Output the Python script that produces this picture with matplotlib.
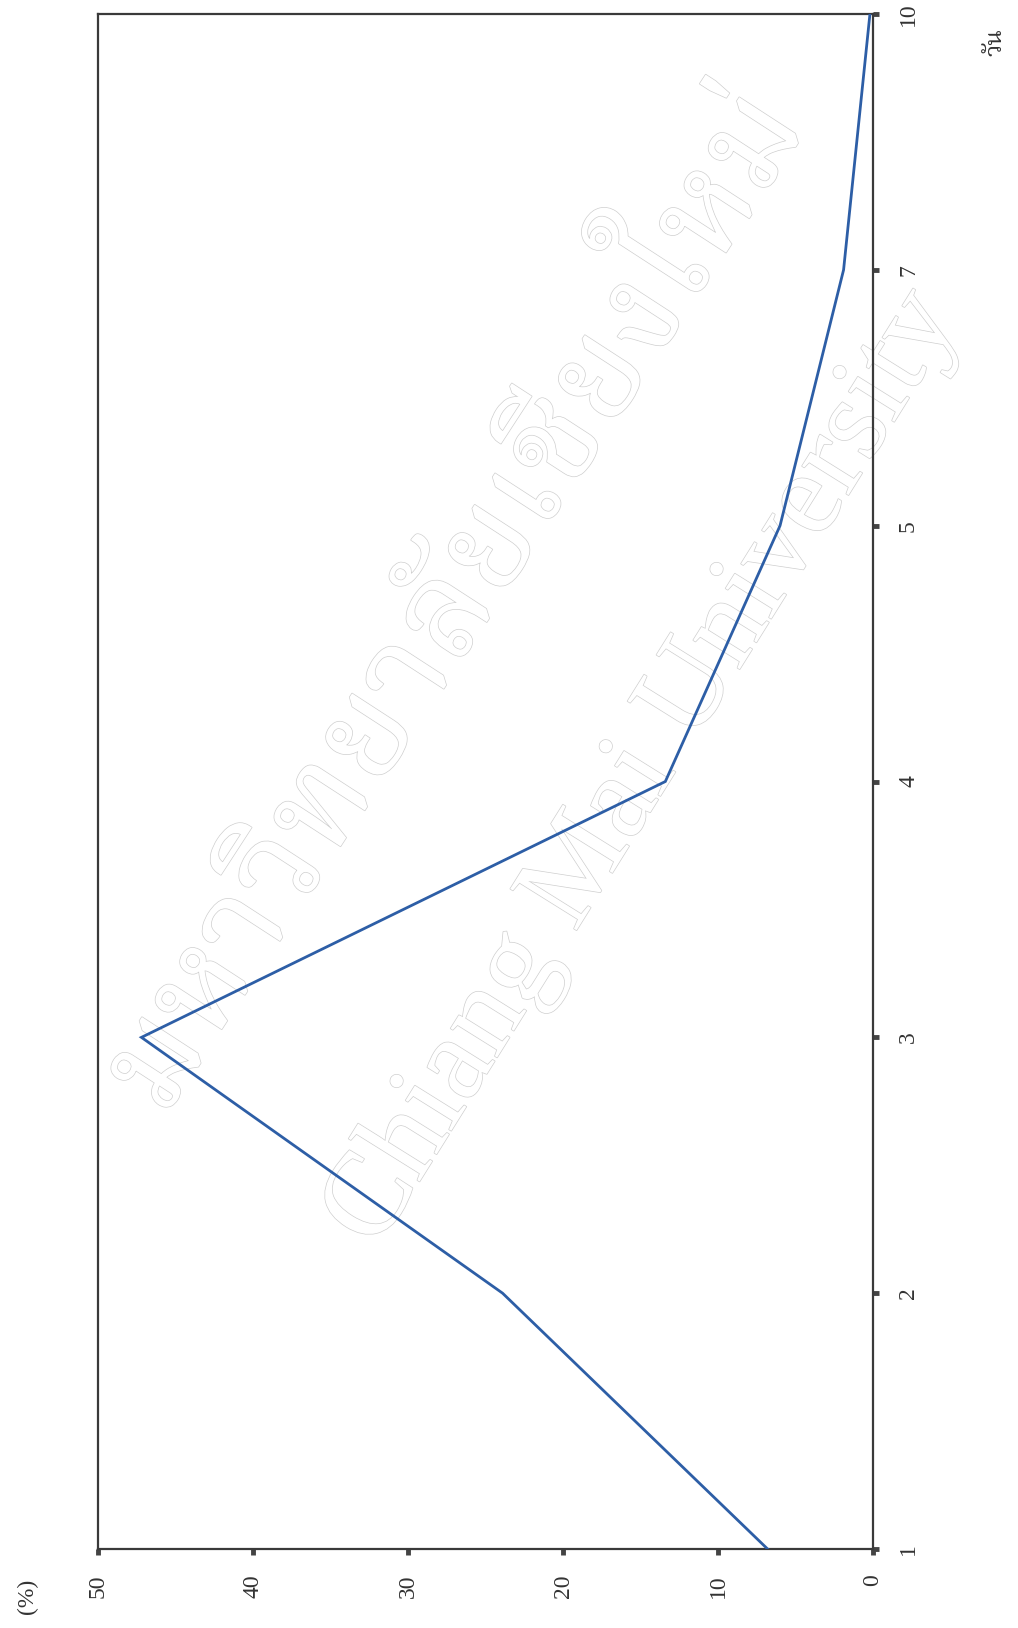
import numpy as np
import matplotlib
matplotlib.use("Agg")
import matplotlib.pyplot as plt
import matplotlib.patheffects as pe

# data: percentage per day (chart is printed rotated 90 degrees)
days = ["1", "2", "3", "4", "5", "7", "10"]
percent = [6.8, 23.9, 47.2, 13.4, 6.0, 1.9, 0.2]
value_ticks = [0, 10, 20, 30, 40, 50]

serif = ["Liberation Serif", "Times New Roman", "DejaVu Serif"]
thai = ["Noto Serif Thai", "Noto Sans Thai", "Loma", "Garuda", "DejaVu Sans"]

fig = plt.figure(figsize=(10.18, 16.28), dpi=100)
ax = fig.add_axes([0.0963, 0.0485, 0.7613, 0.9429])

pos = np.arange(len(days))
ax.plot(percent, pos, color="#2d5ea6", lw=2.0, solid_joinstyle="miter", zorder=3)

# value axis runs right-to-left, day axis bottom-to-top
ax.set_xlim(50, 0)
ax.set_ylim(0, len(days) - 1)

ax.set_xticks(value_ticks)
ax.set_xticklabels([str(v) for v in value_ticks], rotation=90, fontsize=17,
                   family=serif)
ax.set_yticks(pos)
ax.set_yticklabels(days, rotation=90, fontsize=17, va="center", family=serif)
ax.yaxis.tick_right()
ax.tick_params(axis="both", direction="out", length=4, width=3.5,
               color="#444444", labelcolor="#333333", pad=14)

for s in ax.spines.values():
    s.set_color("#3a3a3a")
    s.set_linewidth(1.6)

# axis captions
fig.text(27 / 1018, 1 - 1596 / 1628, "(%)", rotation=90, fontsize=17,
         color="#333333", ha="center", va="center", family=serif)
fig.text(995 / 1018, 1 - 42 / 1628, "วัน", rotation=90, fontsize=17,
         color="#333333", ha="center", va="center", family=thai)

# faint outlined watermark
outline = [pe.withStroke(linewidth=1.0, foreground="#cfcfcf")]
ax.text(27.0, 3.7, "มหาวิทยาลัยเชียงใหม่", rotation=57, fontsize=96,
        color="white", ha="center", va="center", path_effects=outline,
        family=thai, zorder=0.5)
ax.text(14.8, 3.05, "Chiang Mai University", rotation=58, fontsize=86,
        color="white", ha="center", va="center", path_effects=outline,
        family=serif, zorder=0.5)

fig.savefig("out.png", dpi=100)
